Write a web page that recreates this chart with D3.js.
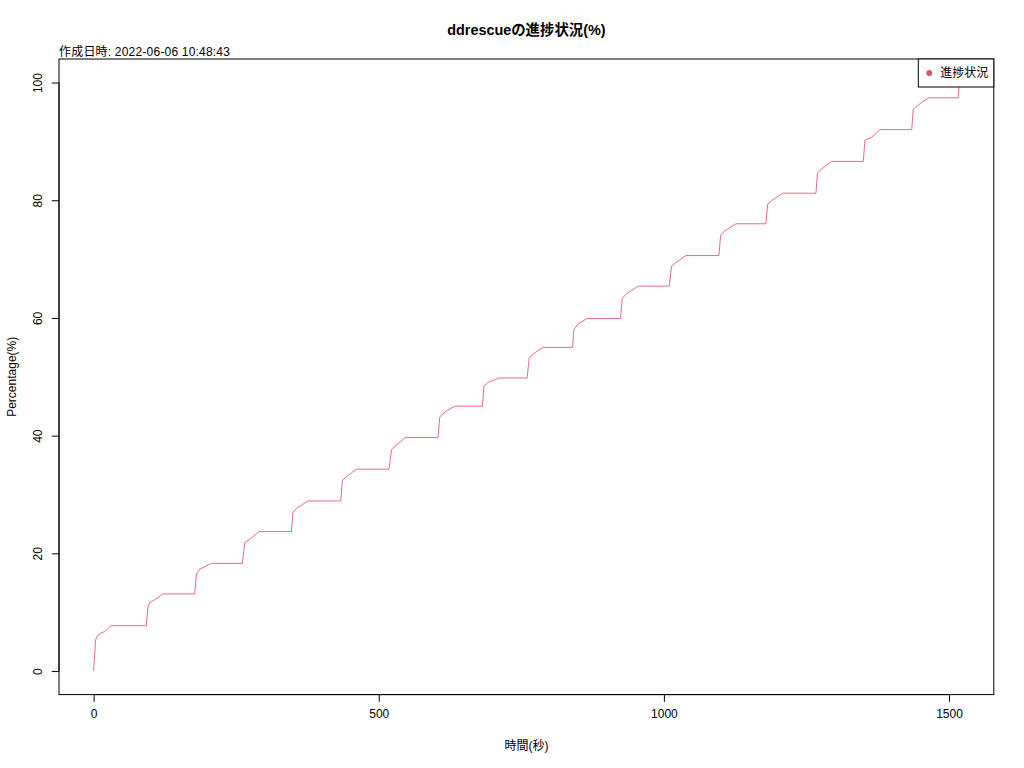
<!DOCTYPE html>
<html>
<head>
<meta charset="utf-8">
<script src="https://cdn.jsdelivr.net/npm/d3@7"></script>
<style>
  html, body { margin: 0; padding: 0; background: #fff; }
  svg { display: block; }
  text { font-family: "Liberation Sans", Arial, "Noto Sans CJK JP", sans-serif; fill: #000; }
</style>
</head>
<body>
<svg id="chart" width="1024" height="768"></svg>
<script>
// ---- data ----
const timeSec = [
  0, 3.5, 7.5, 13.5, 19.3, 25.1, 29.8, 92.5,
  95.3, 98.2, 110.0, 121.6, 177.2,
  180.2, 186.0, 206.5, 260.9,
  264.9, 273.7, 282.5, 290.0, 346.8,
  349.6, 355.6, 364.4, 376.0, 433.3,
  436.3, 443.3, 460.9, 518.1,
  522.3, 528.1, 547.4, 604.0,
  607.0, 618.8, 633.3, 681.9,
  684.2, 691.2, 710.5, 760.2,
  763.7, 770.7, 788.2, 839.8,
  842.1, 849.6, 865.4, 924.0,
  926.8, 933.3, 954.4, 1009.3,
  1013.5, 1022.3, 1038.6, 1096.5,
  1099.5, 1107.0, 1126.3, 1178.9,
  1181.9, 1189.5, 1208.8, 1266.7,
  1269.3, 1273.7, 1294.2, 1349.6,
  1352.6, 1364.4, 1378.9, 1434.6,
  1437.4, 1449.1, 1463.7, 1516.3,
  1517.8
];
const percent = [
  0, 5.3, 6.1, 6.5, 6.7, 7.2, 7.7, 7.7,
  10.9, 11.6, 12.3, 13.1, 13.1,
  16.5, 17.3, 18.3, 18.3,
  21.8, 22.4, 23.1, 23.7, 23.7,
  27.0, 27.6, 28.2, 28.9, 28.9,
  32.4, 33.0, 34.3, 34.3,
  37.6, 38.2, 39.7, 39.7,
  43.2, 44.2, 45.0, 45.0,
  48.4, 49.0, 49.8, 49.8,
  53.1, 53.9, 55.0, 55.0,
  58.0, 59.0, 59.9, 59.9,
  63.3, 64.0, 65.4, 65.4,
  68.8, 69.5, 70.6, 70.6,
  74.1, 74.8, 76.0, 76.0,
  79.3, 80.0, 81.2, 81.2,
  84.6, 85.1, 86.6, 86.6,
  90.2, 90.7, 92.0, 92.0,
  95.5, 96.4, 97.4, 97.4,
  100
];
const xTicks = [0, 500, 1000, 1500];
const yTicks = [0, 20, 40, 60, 80, 100];
const titleText = "ddrescueの進捗状況(%)";
const subtitleText = "作成日時: 2022-06-06 10:48:43";
const xLabel = "時間(秒)";
const yLabel = "Percentage(%)";
const legendLabel = "進捗状況";
const lineColor = "#DF536B";

(function () {
// ---- layout (R base graphics style) ----
const mLeft = 59, mRight = 993.8, mTop = 59, mBottom = 694.6;
const svg = d3.select("#chart");

const xMin = d3.min(timeSec), xMax = d3.max(timeSec);
const xPad = (xMax - xMin) * 0.04;
const yMin = d3.min(percent), yMax = d3.max(percent);
const yPad = (yMax - yMin) * 0.04;

const x = d3.scaleLinear().domain([xMin - xPad, xMax + xPad]).range([mLeft, mRight]);
const y = d3.scaleLinear().domain([yMin - yPad, yMax + yPad]).range([mBottom, mTop]);

const pts = timeSec.map((t, i) => [t, percent[i]]);

// line
svg.append("path")
  .datum(pts)
  .attr("fill", "none")
  .attr("stroke", lineColor)
  .attr("stroke-opacity", 0.85)
  .attr("stroke-width", 1)
  .attr("d", d3.line().x(d => x(d[0])).y(d => y(d[1])));

// box
svg.append("rect")
  .attr("x", mLeft).attr("y", mTop)
  .attr("width", mRight - mLeft).attr("height", mBottom - mTop)
  .attr("fill", "none").attr("stroke", "#000").attr("stroke-width", 1);

// x axis
const xAxis = d3.axisBottom(x).tickValues(xTicks).tickSize(7.2).tickPadding(8).tickFormat(d3.format("d"));
const gx = svg.append("g").attr("transform", `translate(0,${mBottom})`).call(xAxis);
gx.select(".domain").attr("d", `M${x(xTicks[0])},0H${x(xTicks[xTicks.length-1])}`).attr("stroke", "#000");
gx.selectAll(".tick line").attr("stroke", "#000");
gx.selectAll(".tick text").attr("font-size", 12).attr("font-family", '"Liberation Sans", Arial, sans-serif').attr("fill", "#000");

// y axis
const yAxis = d3.axisLeft(y).tickValues(yTicks).tickSize(7.2).tickFormat(d3.format("d"));
const gy = svg.append("g").attr("transform", `translate(${mLeft},0)`).call(yAxis);
gy.select(".domain").attr("d", `M0,${y(yTicks[0])}V${y(yTicks[yTicks.length-1])}`).attr("stroke", "#000");
gy.selectAll(".tick line").attr("stroke", "#000");
gy.selectAll(".tick text")
  .attr("font-size", 12).attr("font-family", '"Liberation Sans", Arial, sans-serif').attr("fill", "#000")
  .attr("x", null).attr("dy", null)
  .attr("text-anchor", "middle")
  .attr("transform", "translate(-21,0) rotate(-90)")
  .attr("dominant-baseline", "central");

// titles
svg.append("text")
  .attr("x", (mLeft + mRight) / 2).attr("y", 35)
  .attr("text-anchor", "middle").attr("font-size", 14.4).attr("font-weight", "bold")
  .text(titleText);
svg.append("text")
  .attr("x", mLeft).attr("y", 55.5)
  .attr("text-anchor", "start").attr("font-size", 12)
  .attr("letter-spacing", 0.2)
  .text(subtitleText);
svg.append("text")
  .attr("x", (mLeft + mRight) / 2).attr("y", 750)
  .attr("text-anchor", "middle").attr("font-size", 12)
  .text(xLabel);
svg.append("text")
  .attr("transform", `translate(16,${(mTop + mBottom) / 2}) rotate(-90)`)
  .attr("text-anchor", "middle").attr("font-size", 12)
  .text(yLabel);

// legend
const lgW = 75.5, lgH = 28;
const lg = svg.append("g").attr("transform", `translate(${mRight - lgW},${mTop})`);
lg.append("rect").attr("width", lgW).attr("height", lgH)
  .attr("fill", "#fff").attr("stroke", "#000").attr("stroke-width", 1);
lg.append("circle").attr("cx", 11).attr("cy", lgH / 2).attr("r", 3).attr("fill", lineColor);
lg.append("text").attr("x", 22).attr("y", lgH / 2).attr("dominant-baseline", "central")
  .attr("font-size", 12).text(legendLabel);
})();
</script>
</body>
</html>
